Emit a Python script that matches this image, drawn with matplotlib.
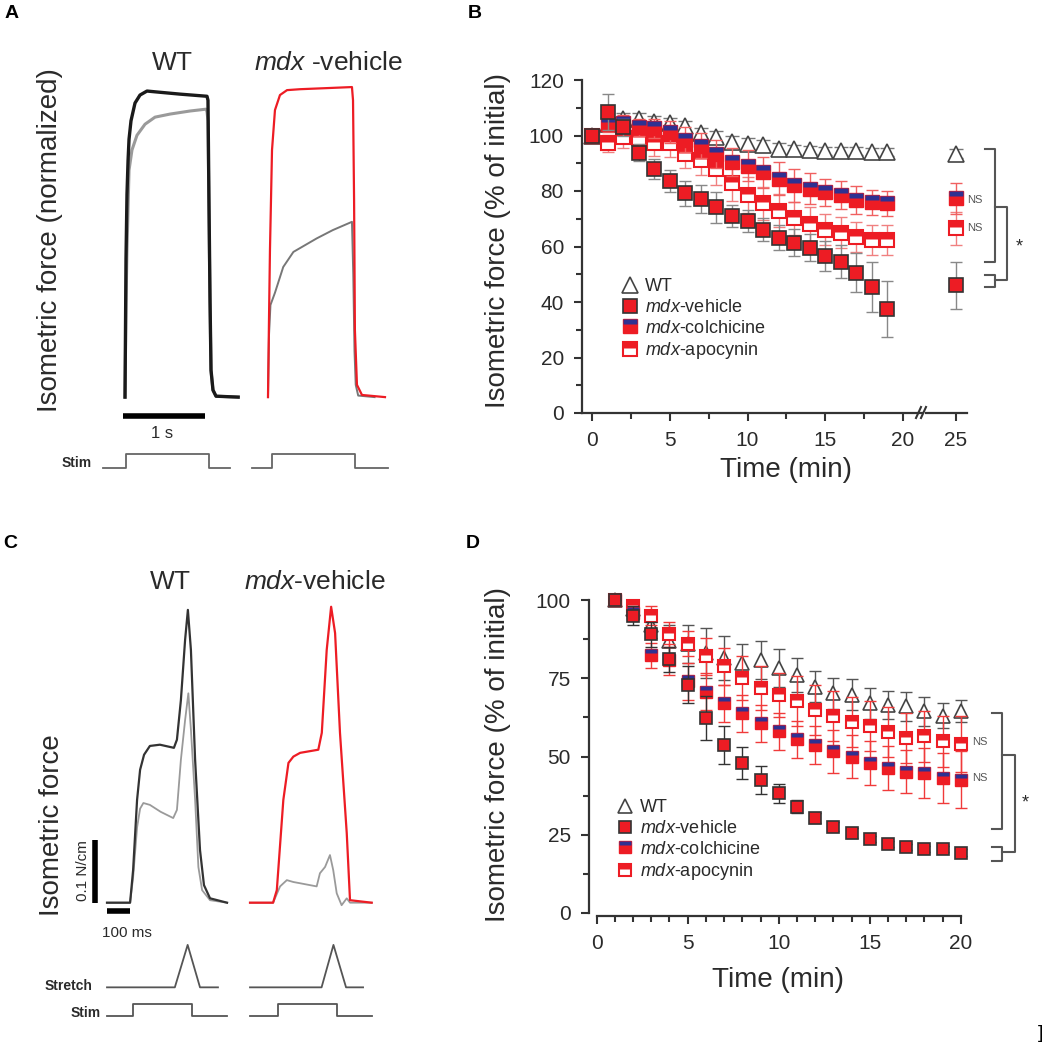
import numpy as np
import matplotlib.pyplot as plt
from matplotlib.path import Path
from matplotlib.lines import Line2D

plt.rcParams.update({'font.family': ['Liberation Sans', 'DejaVu Sans'],
                     'mathtext.fontset': 'custom',
                     'mathtext.rm': 'Liberation Sans',
                     'mathtext.it': 'Liberation Sans:italic'})

RED = '#ed1c24'
BLUE = '#2e3192'
INK = '#2a2a2a'
TRACE_GRAY = '#9a9a9a'

# ---------------- panel A : tetanic traces (time s, normalized force)
A_WT_T = [0, .012, .024, .037, .049, .073, .122, .183, .268, .427, .67, 1.0,
          1.012, 1.024, 1.037, 1.049, 1.073, 1.11, 1.38]
A_WT_F = [0, .45, .66, .77, .84, .90, .958, .984, .997, .993, .987, .98,
          .967, .64, .316, .088, .023, .003, 0]
A_WT2_T = [0, .012, .024, .049, .085, .146, .244, .366, .549, .793, .988,
           1.0, 1.012, 1.024, 1.037, 1.049, 1.073, 1.11, 1.38]
A_WT2_F = [0, .30, .479, .739, .805, .853, .889, .912, .922, .932, .938,
           .93, .90, .60, .30, .085, .022, .003, 0]
A_MDX_T = [0, .012, .024, .049, .085, .146, .232, .39, .756, 1.024,
           1.037, 1.05, 1.06, 1.085, 1.146, 1.427]
A_MDX_F = [0, .25, .479, .805, .935, .984, 1.0, 1.003, 1.007, 1.01,
           .967, .64, .218, .04, .007, 0]
A_MDX2_T = [0, .012, .03, .085, .186, .31, .594, .79, 1.024, 1.04, 1.055, 1.07, 1.1, 1.3]
A_MDX2_F = [0, .2, .30, .34, .424, .473, .517, .544, .571, .40, .15, .04, .005, 0]
A_STIM_WT_T = [-0.27, 0.01, 0.01, 1.02, 1.02, 1.28]
A_STIM_MDX_T = [-0.195, 0.05, 0.05, 1.06, 1.06, 1.46]
STIM_LVL = [0, 0, 1, 1, 0, 0]

# ---------------- panel C : eccentric traces (time ms, force N/cm)
C_WT_T = [0, 99, 112, 129, 142, 159, 184, 227, 287, 300, 317, 335, 347,
          360, 378, 399, 416, 442, 515]
C_WT_F = [0, 0, .052, .164, .212, .236, .25, .252, .247, .26, .323, .419,
          .467, .403, .228, .084, .028, .007, 0]
C_WT2_T = [0, 99, 112, 129, 142, 156, 184, 230, 284, 300, 317, 335, 349,
           360, 378, 392, 408, 442, 515]
C_WT2_F = [0, 0, .04, .12, .15, .159, .156, .145, .135, .148, .228, .291,
           .334, .276, .164, .057, .02, .004, 0]
C_MDX_T = [0, 99, 115, 143, 165, 186, 215, 293, 308, 329, 348, 365, 386,
           415, 429, 522]
C_MDX_F = [0, 0, .02, .164, .223, .233, .239, .244, .271, .403, .472, .43,
           .271, .111, .004, 0]
C_MDX2_T = [0, 99, 129, 158, 186, 215, 286, 300, 322, 343, 357, 372, 393,
            415, 429, 522]
C_MDX2_F = [0, 0, .026, .036, .033, .031, .026, .047, .057, .076, .052,
            .015, -.004, .007, 0, 0]
C_STRETCH_WT_T = [0, 291, 346, 399, 476]
C_STRETCH_MDX_T = [0, 307, 358, 412, 485]
STRETCH_LVL = [0, 0, 1, 0, 0]
C_STIM_WT_T = [0, 113, 113, 363, 363, 514]
C_STIM_MDX_T = [0, 121, 121, 372, 372, 522]

# ---------------- panel B : fatigue, tetanic (min, % of initial)
B_TIME = list(range(20))
B_WT = [100, 104, 106, 106, 105, 104.4, 103.4, 100.8, 99.6, 97.8, 97, 96.5,
        95.3, 95, 94.7, 94.5, 94.5, 94.3, 94, 94]
B_WT_ERR = [0.5, 2, 2, 2, 2, 2, 2, 2, 2, 2, 2, 2, 2, 1.5, 1.5, 1.5, 1.5, 1.5, 1.5, 1.5]
B_VEH = [100, 108.6, 103, 93.8, 87.9, 83.6, 79.1, 77.1, 74.1, 71.1, 69.1,
         66.1, 63.1, 61.4, 59.6, 56.6, 54.5, 50.5, 45.4, 37.4]
B_VEH_ERR = [0.5, 6.5, 3, 3, 3.5, 4, 4.5, 5, 5.5, 4, 4, 4, 4.5, 5, 5, 5.5,
             6, 7, 9, 10]
B_COL = [100, 104.1, 104.4, 103, 102.6, 101.4, 98.4, 96.3, 93.3, 90.5, 89.1,
         86.7, 84.5, 82.1, 80.9, 79.5, 78.5, 76.7, 75.9, 75.5]
B_COL_ERR = [0.5, 3, 3, 3, 3.5, 4, 4.5, 4.5, 5, 5, 5.5, 5.5, 6, 6, 5.5, 5,
             5, 5, 4.5, 4.5]
B_APO = [100, 97.2, 99.5, 99, 97.2, 97.2, 93.2, 91.1, 88.1, 83, 78.5, 75.5,
         72.9, 70.1, 68.1, 66.1, 65, 63.5, 62.3, 62.3]
B_APO_ERR = [0.5, 3, 4, 4, 4.5, 5, 5, 5.5, 6, 6.5, 6.5, 6, 6, 6, 6, 5.5,
             5.5, 5.5, 5.5, 5.5]
B_END_T = [25]
B_END = {'WT': (93.5, 1.5), 'veh': (46, 8.5), 'col': (77.3, 5.5), 'apo': (66.5, 6)}

# ---------------- panel D : fatigue, eccentric (min, % of initial)
D_TIME = list(range(1, 21))
D_WT = [100, 97, 92, 87, 86, 83, 81.5, 79.9, 80.9, 78.3, 76, 72.3, 70.2,
        69.7, 67, 66.5, 66, 64.4, 63, 64.4]
D_WT_ERR = [0, 2, 4, 5, 6, 8, 7, 6, 6, 6, 5.5, 5, 5, 5, 5, 4.5, 4.5, 4.5, 4, 3.5]
D_VEH = [100, 95, 89, 81, 73, 62.3, 53.7, 47.9, 42.5, 38.3, 34, 30.3, 27.6,
         25.5, 23.6, 22, 21.2, 20.4, 20.4, 19.3]
D_VEH_ERR = [0, 3, 4, 4, 6, 7, 6, 5, 4.5, 3, 2, 1.5, 1.5, 1.5, 1, 1, 1, 1, 1, 1]
D_COL = [100, 96, 82.4, 80.9, 74, 70.7, 67, 63.8, 60.6, 58, 55.5, 53.7,
         51.6, 50, 47.9, 46.3, 45.2, 44.7, 43.1, 42.6]
D_COL_ERR = [0, 2, 4, 5, 6, 6, 6, 6, 6, 6, 6, 6, 7, 7, 7, 7, 7, 8, 8, 9]
D_APO = [100, 98, 95, 89, 86, 82, 78.8, 75, 71.8, 69.7, 67.6, 65, 62.8,
         60.9, 59.6, 57.7, 55.9, 56.4, 54.8, 54]
D_APO_ERR = [0, 2, 3, 4, 4, 6, 6, 7, 7, 7, 8, 8, 8, 8, 8, 8, 8, 8, 8, 9]

LABELS = ['WT', r'$\mathit{mdx}$-vehicle', r'$\mathit{mdx}$-colchicine',
          r'$\mathit{mdx}$-apocynin']

W, H = 1047, 1050
fig = plt.figure(figsize=(W / 100, H / 100), dpi=100)


def rect(l, t, r, b):
    return [l / W, 1 - b / H, (r - l) / W, (b - t) / H]


def ftext(x, y, s, **kw):
    kw.setdefault('color', INK)
    fig.text(x / W, 1 - y / H, s, **kw)


def fline(xs, ys, **kw):
    kw.setdefault('color', '#555555')
    kw.setdefault('lw', 1.5)
    fig.add_artist(Line2D([x / W for x in xs], [1 - y / H for y in ys], **kw))


# strip markers (top part of a square)
STRIP_COL = Path([(-1, 0.3), (1, 0.3), (1, 1), (-1, 1), (-1, 0.3)], closed=True)
STRIP_APO = Path([(-1, 0.1), (1, 0.1), (1, 1), (-1, 1), (-1, 0.1)], closed=True)


def series(ax, x, y, err, kind, ms, ecol):
    ax.errorbar(x, y, yerr=err, fmt='none', ecolor=ecol, elinewidth=1,
                capsize=ms * 0.45, capthick=1, clip_on=False)
    if kind == 'wt':
        h = ax.plot(x, y, ls='none', marker='^', ms=ms, mfc='white', mec='#444444',
                    mew=1.2, clip_on=False)[0]
        return h
    if kind == 'veh':
        return ax.plot(x, y, ls='none', marker='s', ms=ms, mfc=RED, mec='#333333',
                       mew=1.2, clip_on=False)[0]
    if kind == 'col':
        h1 = ax.plot(x, y, ls='none', marker='s', ms=ms, mfc=RED, mec=RED,
                     mew=1, clip_on=False)[0]
        h2 = ax.plot(x, y, ls='none', marker=STRIP_COL, ms=ms, mfc=BLUE, mec='none',
                     clip_on=False)[0]
        return (h1, h2)
    h1 = ax.plot(x, y, ls='none', marker='s', ms=ms, mfc='white', mec=RED,
                 mew=1.5, clip_on=False)[0]
    h2 = ax.plot(x, y, ls='none', marker=STRIP_APO, ms=ms, mfc=RED, mec='none',
                 clip_on=False)[0]
    return (h1, h2)


def style_axis(ax):
    for s in ('top', 'right'):
        ax.spines[s].set_visible(False)
    for s in ('left', 'bottom'):
        ax.spines[s].set_linewidth(1.6)
        ax.spines[s].set_color('#333333')
    ax.tick_params(which='both', direction='out', width=1.5, colors='#333333',
                   labelsize=15, labelcolor=INK)
    ax.tick_params(which='major', length=6, pad=7)
    ax.tick_params(which='minor', length=4)
    ax.patch.set_alpha(0)


# ================= panel A
axA = fig.add_axes(rect(95, 80, 400, 480))
axA.set_xlim(-0.366, 3.354)
axA.set_ylim(-0.27, 1.033)
axA.axis('off')
offA = 1.744
axA.plot(A_WT2_T, A_WT2_F, color=TRACE_GRAY, lw=2.2)
axA.plot(A_WT_T, A_WT_F, color='#1a1a1a', lw=2.4)
axA.plot(np.array(A_MDX2_T) + offA, A_MDX2_F, color='#777777', lw=1.4)
axA.plot(np.array(A_MDX_T) + offA, A_MDX_F, color=RED, lw=1.6)
axA.plot([-0.024, 0.976], [-0.062, -0.062], color='black', lw=4, solid_capstyle='butt')
for tt, o in ((A_STIM_WT_T, 0), (A_STIM_MDX_T, offA)):
    axA.plot(np.array(tt) + o, -0.231 + 0.045 * np.array(STIM_LVL), color='#666666', lw=1.3)
ftext(162, 433, '1 s', fontsize=12, ha='center', va='center')
ftext(92, 463, 'Stim', fontsize=10, fontweight='bold', ha='right', va='center')
ftext(172, 63, 'WT', fontsize=19, ha='center', va='center')
ftext(328, 63, r'$\mathit{mdx}$ -vehicle', fontsize=19, ha='center', va='center')
ftext(50, 240, 'Isometric force (normalized)', fontsize=20, rotation=90,
      ha='center', va='center')

# ================= panel C
axC = fig.add_axes(rect(70, 590, 400, 1025))
axC.set_xlim((70 - 107) * 4.29, (400 - 107) * 4.29)
axC.set_ylim((902.7 - 1025) / 627, (902.7 - 590) / 627)
axC.axis('off')
offC = 613.5
axC.plot(C_WT2_T, C_WT2_F, color=TRACE_GRAY, lw=1.3)
axC.plot(C_WT_T, C_WT_F, color='#333333', lw=1.6)
axC.plot(np.array(C_MDX2_T) + offC, C_MDX2_F, color=TRACE_GRAY, lw=1.3)
axC.plot(np.array(C_MDX_T) + offC, C_MDX_F, color=RED, lw=1.6)
axC.plot([-51.5, -51.5], [0, 0.1], color='black', lw=4, solid_capstyle='butt')
axC.plot([0, 100], [-0.0132, -0.0132], color='black', lw=4, solid_capstyle='butt')
for tt, o in ((C_STRETCH_WT_T, 0), (C_STRETCH_MDX_T, offC)):
    axC.plot(np.array(tt) + o, -0.135 + 0.0677 * np.array(STRETCH_LVL), color='#555555', lw=1.3)
for tt, o in ((C_STIM_WT_T, 0), (C_STIM_MDX_T, offC)):
    axC.plot(np.array(tt) + o, -0.1807 + 0.0187 * np.array(STIM_LVL), color='#555555', lw=1.3)
ftext(83, 871, '0.1 N/cm', fontsize=11, rotation=90, ha='center', va='center')
ftext(102, 933, '100 ms', fontsize=11, ha='left', va='center')
ftext(92, 986, 'Stretch', fontsize=10, fontweight='bold', ha='right', va='center')
ftext(101, 1013, 'Stim', fontsize=10, fontweight='bold', ha='right', va='center')
ftext(170, 582, 'WT', fontsize=19, ha='center', va='center')
ftext(315, 582, r'$\mathit{mdx}$-vehicle', fontsize=19, ha='center', va='center')
ftext(52, 825, 'Isometric force', fontsize=20, rotation=90, ha='center', va='center')

# ================= panel B
axB = fig.add_axes(rect(582, 80, 922, 413))
axB2 = fig.add_axes(rect(926, 80, 967, 413))
for ax in (axB, axB2):
    style_axis(ax)
    ax.set_ylim(0, 120)
axB.set_xlim(-0.643, 21.22)
axB2.set_xlim(23.07, 25.71)
axB2.spines['left'].set_visible(False)
axB2.tick_params(axis='y', which='both', left=False, labelleft=False)
axB.set_xticks([0, 5, 10, 15, 20])
axB.set_xticks(np.arange(0, 20.1, 2.5), minor=True)
axB.set_yticks(range(0, 121, 20))
axB.set_yticks(range(0, 121, 10), minor=True)
axB2.set_xticks([25])

hB = [series(axB, B_TIME, B_WT, B_WT_ERR, 'wt', 11, '#777777'),
      series(axB, B_TIME, B_APO, B_APO_ERR, 'apo', 10, '#f08080'),
      series(axB, B_TIME, B_COL, B_COL_ERR, 'col', 10, '#f06060'),
      series(axB, B_TIME, B_VEH, B_VEH_ERR, 'veh', 10, '#888888')]
for key, kind, ec in (('WT', 'wt', '#777777'), ('apo', 'apo', '#f08080'),
                      ('col', 'col', '#f06060'), ('veh', 'veh', '#888888')):
    v, e = B_END[key]
    series(axB2, B_END_T, [v], [e], kind, 11 if kind == 'wt' else 10, ec)
axB.legend([hB[0], hB[3], hB[2], hB[1]], LABELS, loc='upper left',
           bbox_to_anchor=(1.85, 48.5), bbox_transform=axB.transData,
           frameon=False, fontsize=13, handlelength=1.0, handletextpad=0.35,
           labelspacing=0.2, borderpad=0, borderaxespad=0, labelcolor=INK)
# axis break
fline([916, 921], [418, 407], color='#333333', lw=1.5)
fline([921, 926], [418, 407], color='#333333', lw=1.5)
ftext(786, 470, 'Time (min)', fontsize=20, ha='center', va='center')
ftext(498, 240, 'Isometric force (% of initial)', fontsize=20, rotation=90,
      ha='center', va='center')
# significance brackets
fline([985, 995, 995, 985], [149, 149, 262, 262])
fline([995, 1006.7, 1006.7, 995], [206.7, 206.7, 280, 280])
fline([985, 995, 995, 985], [275, 275, 286.7, 286.7])
ftext(1019, 247, '*', fontsize=13, ha='center', va='center')
ftext(967, 200, 'NS', fontsize=8, ha='left', va='center', color='#555555')
ftext(967, 228, 'NS', fontsize=8, ha='left', va='center', color='#555555')

# ================= panel D
axD = fig.add_axes(rect(589, 600, 970, 913))
style_axis(axD)
axD.set_xlim(-0.42, 20.5)
axD.set_ylim(0, 100)
axD.spines['bottom'].set_bounds(0, 20)
axD.spines['bottom'].set_position(('outward', 2))
axD.set_xticks([0, 5, 10, 15, 20])
axD.set_xticks(range(0, 21), minor=True)
axD.set_yticks([0, 25, 50, 75, 100])
axD.set_yticks(np.arange(0, 101, 12.5), minor=True)
hD = [series(axD, D_TIME, D_WT, D_WT_ERR, 'wt', 10, '#555555'),
      series(axD, D_TIME, D_APO, D_APO_ERR, 'apo', 9, '#f03a3a'),
      series(axD, D_TIME, D_COL, D_COL_ERR, 'col', 9, '#f03a3a'),
      series(axD, D_TIME, D_VEH, D_VEH_ERR, 'veh', 9, '#333333')]
axD.legend([hD[0], hD[3], hD[2], hD[1]], LABELS, loc='upper left',
           bbox_to_anchor=(1.05, 36.3), bbox_transform=axD.transData,
           frameon=False, fontsize=13, handlelength=1.0, handletextpad=0.35,
           labelspacing=0.2, borderpad=0, borderaxespad=0, labelcolor=INK)
ftext(778, 980, 'Time (min)', fontsize=20, ha='center', va='center')
ftext(498, 755, 'Isometric force (% of initial)', fontsize=20, rotation=90,
      ha='center', va='center')
fline([991.7, 1001.7, 1001.7, 991.7], [713.3, 713.3, 829.3, 829.3])
fline([1001.7, 1015, 1015, 1001.7], [755, 755, 852.3, 852.3])
fline([991.7, 1001.7, 1001.7, 991.7], [846.7, 846.7, 861, 861])
ftext(1025, 803, '*', fontsize=13, ha='center', va='center')
ftext(972, 742, 'NS', fontsize=8, ha='left', va='center', color='#555555')
ftext(972, 778, 'NS', fontsize=8, ha='left', va='center', color='#555555')

# panel letters
for s, x, y in (('A', 12, 14), ('B', 475, 14), ('C', 10, 543), ('D', 473, 543)):
    ftext(x, y, s, fontsize=14, fontweight='bold', ha='center', va='center', color='black')
ftext(1041, 1034, ']', fontsize=14, ha='center', va='center', color='black')

fig.savefig('out.png', dpi=100)
